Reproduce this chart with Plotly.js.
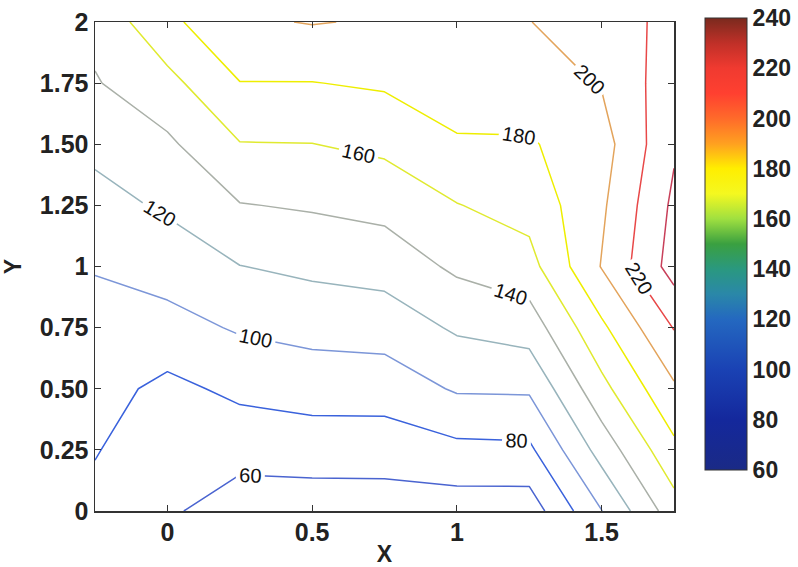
<!DOCTYPE html>
<html>
<head>
<meta charset="utf-8">
<script src="https://cdn.plot.ly/plotly-3.0.1.min.js"></script>
<style>html,body{margin:0;padding:0;background:#fff;}#chart{width:798px;height:567px;}</style>
</head>
<body>
<div id="chart"></div>
<script>
// Grid coordinates
const xValues = [-0.25, 0, 0.25, 0.5, 0.75, 1, 1.25, 1.5, 1.75];
const yValues = [0, 0.25, 0.5, 0.75, 1, 1.25, 1.5, 1.75, 2];
// Z values, one row per y value
const zRowY000 = [74.6, 63, 49.8, 49.2, 49.8, 49.7, 49.2, 99.5, 151];
const zRowY025 = [81.1, 68, 67.1, 69.2, 69.2, 75.0, 76.1, 128, 175];
const zRowY050 = [87.6, 74.9, 84.5, 88.4, 88.8, 102.1, 102.7, 154, 197];
const zRowY075 = [94.1, 93.1, 102.1, 106.5, 108.6, 122.7, 129.2, 176.1, 221];
const zRowY100 = [101.0, 108.4, 119.6, 124.3, 127.8, 143.7, 153, 201, 248.4];
const zRowY125 = [112.9, 122.9, 139.1, 142.1, 146.2, 159.3, 167.3, 196.7, 244];
const zRowY150 = [125.0, 136.4, 159.2, 159.7, 164.4, 176.8, 178.1, 191.6, 237.4];
const zRowY175 = [138.5, 154, 179.5, 179.5, 182.6, 194.4, 191, 201.2, 232.1];
const zRowY200 = [146, 175, 197, 201, 198, 198, 199.5, 212.2, 224.6];
const zMatrix = [zRowY000, zRowY025, zRowY050, zRowY075, zRowY100, zRowY125, zRowY150, zRowY175, zRowY200];

// Contour levels / colour range
const levelStart = 60, levelEnd = 240, levelStep = 20;
const colorbarTicks = [60, 80, 100, 120, 140, 160, 180, 200, 220, 240];
const xTickVals = [0, 0.5, 1, 1.5];
const xTickText = ['0', '0.5', '1', '1.5'];
const yTickVals = [0, 0.25, 0.5, 0.75, 1, 1.25, 1.5, 1.75, 2];
const yTickText = ['0', '0.25', '0.50', '0.75', '1', '1.25', '1.50', '1.75', '2'];

const lineScale = [
  [0.000, '#4a64d0'], [0.111, '#3a62dc'], [0.222, '#7c96d8'], [0.333, '#98b4bc'],
  [0.444, '#aab0a8'], [0.556, '#e0ea30'], [0.667, '#eeee00'], [0.778, '#e3a45c'],
  [0.889, '#e84848'], [1.000, '#c8405a']
];
const barScale = [
  [0.000, '#1a2a86'], [0.111, '#14289c'], [0.222, '#1a42b4'], [0.333, '#2468c0'],
  [0.390, '#2a88a8'], [0.444, '#2a9880'], [0.500, '#3aa040'], [0.556, '#a0e040'],
  [0.611, '#f4f820'], [0.667, '#ffee00'], [0.722, '#ffa020'], [0.778, '#ff6a2a'],
  [0.833, '#ff4030'], [0.889, '#f03a30'], [0.944, '#c03028'], [1.000, '#7a2a1e']
];

const tickFamily = '"Liberation Sans", Arial, sans-serif';
const tickFont = {family: tickFamily, size: 25, color: '#222', weight: 'bold'};
const barTickFont = {family: tickFamily, size: 23, color: '#222', weight: 'bold'};

const contourTrace = {
  type: 'contour',
  x: xValues, y: yValues, z: zMatrix,
  zauto: false, zmin: levelStart, zmax: levelEnd,
  colorscale: lineScale,
  showscale: false,
  contours: {
    coloring: 'lines', start: levelStart, end: levelEnd, size: levelStep,
    showlabels: true,
    labelfont: {family: '"Liberation Sans", Arial, sans-serif', size: 20, color: '#111'}
  },
  line: {width: 1.5, smoothing: 0},
  hoverinfo: 'skip'
};

const colorbarTrace = {
  type: 'scatter', mode: 'markers',
  x: [null, null], y: [null, null],
  hoverinfo: 'skip', showlegend: false,
  marker: {
    color: [levelStart, levelEnd], cmin: levelStart, cmax: levelEnd,
    colorscale: barScale, showscale: true,
    colorbar: {
      x: 1.0535, xanchor: 'left', xpad: 0,
      y: 0.0838, yanchor: 'bottom', ypad: 0,
      len: 0.924, lenmode: 'fraction', thickness: 42, thicknessmode: 'pixels',
      outlinewidth: 1, outlinecolor: '#333',
      tickvals: colorbarTicks, ticks: '',
      tickfont: barTickFont
    }
  }
};

const axisCommon = {
  showline: true, mirror: 'ticks', linecolor: '#333', linewidth: 1.5,
  ticks: 'inside', ticklen: 6, tickwidth: 1, tickcolor: '#333',
  showgrid: false, zeroline: false, tickfont: tickFont
};

const layout = {
  width: 798, height: 567,
  margin: {l: 95, r: 124, t: 22, b: 56, pad: 0},
  paper_bgcolor: '#ffffff', plot_bgcolor: '#ffffff',
  showlegend: false,
  xaxis: Object.assign({}, axisCommon, {
    range: [-0.25, 1.75], tickmode: 'array', tickvals: xTickVals, ticktext: xTickText,
    ticklabelstandoff: -2,
    title: {text: 'X', font: {family: tickFamily, size: 23, color: '#222', weight: 'bold'}, standoff: 4}
  }),
  yaxis: Object.assign({}, axisCommon, {
    range: [0, 2], tickmode: 'array', tickvals: yTickVals, ticktext: yTickText,
    title: {text: 'Y', font: {family: tickFamily, size: 23, color: '#222', weight: 'bold'}, standoff: 16}
  })
};

Plotly.newPlot('chart', [contourTrace, colorbarTrace], layout, {displayModeBar: false, staticPlot: true});
</script>
</body>
</html>
